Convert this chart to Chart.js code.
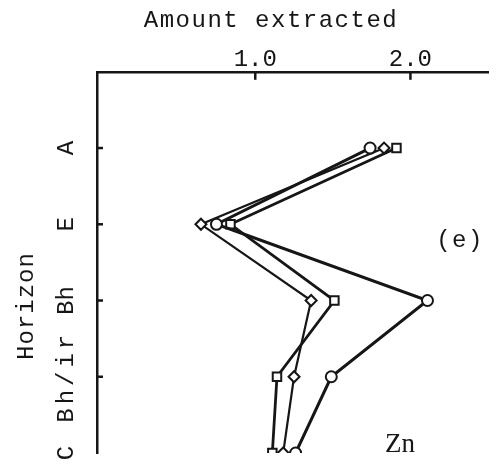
<!DOCTYPE html>
<html>
<head>
<meta charset="utf-8">
<script src="https://cdn.jsdelivr.net/npm/chart.js@4/dist/chart.umd.min.js"></script>
<style>
  html, body { margin: 0; padding: 0; background: #fff; }
  #wrap { width: 497px; height: 465px; }
</style>
</head>
<body>
<div id="wrap"><canvas id="chart"></canvas></div>
<script>
"use strict";

// horizons, top to bottom (position 1..5 on a reversed axis)
const horizons = ["A", "E", "Bh", "Bh/ir", "C"];
const horizonPos = [1, 2, 3, 4, 5];
const xTicks = [1.0, 2.0];

// amount extracted per horizon
const circleVals = [1.74, 0.75, 2.11, 1.49, 1.26];
const diamondVals = [1.83, 0.65, 1.36, 1.25, 1.18];
const squareVals = [1.91, 0.84, 1.51, 1.14, 1.11];

const FONT = "'Liberation Mono', 'DejaVu Sans Mono', monospace";
const INK = "#161616";

const toPoints = (vals) => vals.map((v, i) => ({ x: v, y: horizonPos[i] }));

const makeSet = (label, vals, style, radius, width) => ({
    label: label,
    data: toPoints(vals),
    showLine: true,
    borderColor: INK,
    borderWidth: width,
    pointStyle: style,
    pointRadius: radius,
    pointBorderWidth: 2,
    pointBackgroundColor: "#fff",
    pointBorderColor: INK,
    fill: false,
});

// inward ticks, horizon labels and loose text
const extras = {
    id: "extras",
    afterDraw(chart) {
        const ctx = chart.ctx;
        const xs = chart.scales.x;
        const ys = chart.scales.y;
        const area = chart.chartArea;
        ctx.save();
        ctx.strokeStyle = INK;
        ctx.lineWidth = 2.5;
        xTicks.forEach(v => {
            const px = xs.getPixelForValue(v);
            ctx.beginPath();
            ctx.moveTo(px, area.top);
            ctx.lineTo(px, area.top + 8);
            ctx.stroke();
        });
        horizonPos.slice(0, 4).forEach(v => {
            const py = ys.getPixelForValue(v);
            ctx.beginPath();
            ctx.moveTo(area.left, py);
            ctx.lineTo(area.left + 6, py);
            ctx.stroke();
        });

        ctx.fillStyle = INK;
        ctx.font = "24px " + FONT;
        ctx.textAlign = "center";
        ctx.textBaseline = "middle";
        horizons.forEach((h, i) => {
            const py = ys.getPixelForValue(horizonPos[i]);
            ctx.save();
            ctx.translate(area.left - 30, py);
            ctx.rotate(-Math.PI / 2);
            ctx.letterSpacing = h === "Bh/ir" ? "4px" : "0px";
            ctx.fillText(h, 0, 0);
            ctx.restore();
        });
        ctx.save();
        ctx.translate(27, 306);
        ctx.rotate(-Math.PI / 2);
        ctx.letterSpacing = "1px";
        ctx.fillText("Horizon", 0, 0);
        ctx.restore();

        ctx.letterSpacing = "1.5px";
        ctx.fillText("Amount extracted", 271, 21);
        ctx.fillText("(e)", 460, 241);
        ctx.letterSpacing = "0px";
        ctx.font = "27px 'Liberation Serif', 'DejaVu Serif', serif";
        ctx.fillText("Zn", 400, 445);
        ctx.restore();
    }
};

new Chart(document.getElementById("chart"), {
    type: "scatter",
    data: {
        datasets: [
            makeSet("circle", circleVals, "circle", 5.5, 3),
            makeSet("diamond", diamondVals, "rectRot", 5.5, 2.2),
            makeSet("square", squareVals, "rect", 6, 2.8),
        ]
    },
    options: {
        responsive: true,
        maintainAspectRatio: false,
        animation: false,
        layout: { padding: { left: 97, right: 9, top: 47, bottom: 12 } },
        plugins: {
            legend: { display: false },
            tooltip: { enabled: false },
        },
        scales: {
            x: {
                type: "linear",
                position: "top",
                min: -0.02,
                max: 2.5,
                afterBuildTicks: (scale) => {
                    scale.ticks = xTicks.map(v => ({ value: v }));
                },
                ticks: {
                    color: INK,
                    font: { family: FONT, size: 24 },
                    padding: -2,
                    callback: (v) => Number(v).toFixed(1),
                },
                grid: { display: false, drawTicks: false },
                border: { color: INK, width: 2.5 },
            },
            y: {
                type: "linear",
                reverse: true,
                min: 0,
                max: 5,
                ticks: { display: false },
                grid: { display: false, drawTicks: false },
                border: { color: INK, width: 2.5 },
            }
        }
    },
    plugins: [extras]
});
</script>
</body>
</html>
